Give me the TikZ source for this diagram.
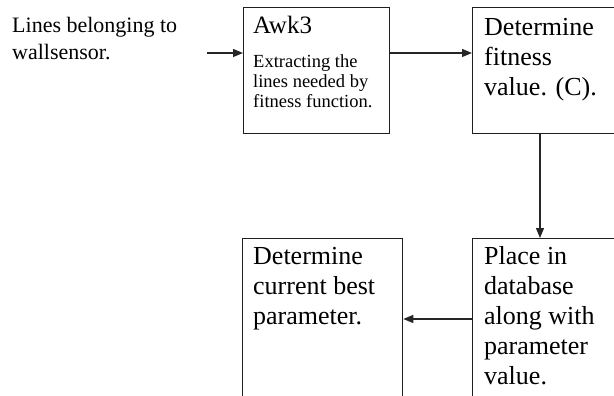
\documentclass[tikz,border=0pt]{standalone}
\usepackage{fontspec}
\setmainfont{Liberation Serif}
\usetikzlibrary{arrows.meta}
% lines stacked downward, baseline at the first line
\newcommand\toplines[1]{\begin{tabular}[t]{@{}l@{}}#1\end{tabular}}
\begin{document}
\begin{tikzpicture}[x=1pt,y=-1pt,
  stepbox/.style={draw=black!88, line width=1.3pt, inner sep=0pt, anchor=north west},
  plaintext/.style={anchor=base west, inner sep=0pt},
  bigtext/.style={plaintext, font=\fontsize{26}{30}\selectfont},
  smalltext/.style={plaintext, font=\fontsize{18.5}{20}\selectfont},
  arr/.style={draw=black!85, line width=1.2pt, -{Triangle[length=10pt,width=8pt]}}]
\useasboundingbox (0,0) rectangle (614,396);
\fill[white] (0,0) rectangle (614,396);
\clip (0,0) rectangle (614,396);

% boxes
\node[stepbox, minimum width=146pt, minimum height=126pt] (awk) at (243,7) {};
\node[stepbox, minimum width=180pt, minimum height=126pt] (fit) at (472,7) {};
\node[stepbox, minimum width=180pt, minimum height=190pt] (place) at (472,238) {};
\node[stepbox, minimum width=160pt, minimum height=190pt] (best) at (242,238) {};

% texts
\node[plaintext, font=\fontsize{22}{27}\selectfont] (src) at (12,33)
  {\toplines{Lines belonging to\\wallsensor.}};
\node[plaintext, font=\fontsize{25}{30}\selectfont] (awktitle) at (253,34) {Awk3};
\node[smalltext] (awkdesc) at (253,68) {\toplines{Extracting the\\lines needed by\\fitness function.}};
\node[bigtext] (fittext) at (484,36) {\toplines{Determine\\fitness\\value. (C).}};
\node[bigtext] (placetext) at (484,264) {\toplines{Place in\\database\\along with\\parameter\\value.}};
\node[bigtext] (besttext) at (253,264) {\toplines{Determine\\current best\\parameter.}};

% connectors
\coordinate (in) at (207,53);
\coordinate (ya) at (0,53);
\coordinate (vx) at (540,0);
\coordinate (yb) at (0,319);
\draw[arr] (in) -- (awk.west |- ya);
\draw[arr] (awk.east |- ya) -- (fit.west |- ya);
\draw[arr] (fit.south -| vx) -- (place.north -| vx);
\draw[arr] (place.west |- yb) -- (best.east |- yb);
\end{tikzpicture}
\end{document}
